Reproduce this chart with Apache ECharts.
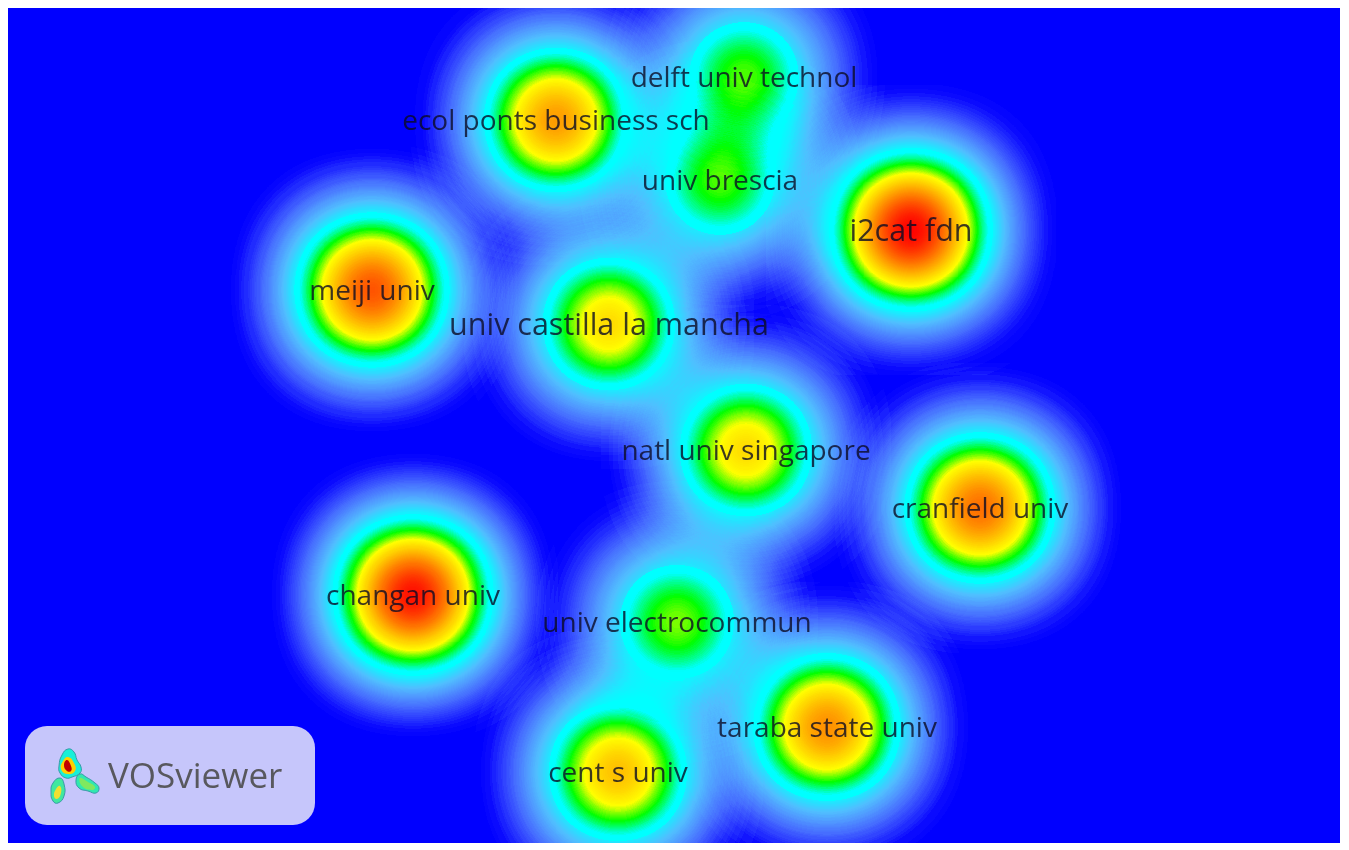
<!DOCTYPE html>
<html>
<head>
<meta charset="utf-8">
<title>VOSviewer density map</title>
<script src="https://cdn.jsdelivr.net/npm/echarts@6/dist/echarts.min.js"></script>
<style>
    * { margin: 0; padding: 0; }
    html, body { background: #fff; overflow: hidden; }
    #main { width: 1349px; height: 850px; }
    #main canvas { filter: blur(0.6px); }
</style>
</head>
<body>
<div id="main"></div>
<script>
    // institutions on the density map, map units run left to right and bottom to top
    var names = ['i2cat fdn', 'meiji univ', 'changan univ', 'cranfield univ', 'natl univ singapore',
        'univ castilla la mancha', 'ecol ponts business sch', 'delft univ technol', 'univ brescia',
        'univ electrocommun', 'taraba state univ', 'cent s univ'];
    var nodeX = [903, 364, 405, 972, 738, 601, 548, 736, 712, 669, 819, 610];
    var nodeY = [613, 553, 248, 335, 393, 519, 723, 766, 663, 221, 116, 71];
    var density = [1.0, 0.8, 0.97, 0.73, 0.46, 0.46, 0.62, 0.29, 0.29, 0.31, 0.65, 0.53];
    var fontSizes = [30.5, 28, 28, 28, 28, 30.5, 28, 28, 28, 28, 28, 28];

    // brush alpha -> colour, the wide halo underneath and the narrow core on top
    var haloStops = [
        [0, '#0000ff'], [0.008, '#0a0aff'], [0.018, '#1e28ff'], [0.032, '#3246ff'], [0.055, '#466eff'],
        [0.088, '#5096ff'], [0.13, '#50beff'], [0.19, '#14f0ff'], [0.22, '#00ffff'], [1, '#00ffff']
    ];
    var coreStops = [
        [0, 'rgba(0,255,255,0)'], [0.035, 'rgba(0,255,255,0)'], [0.07, 'rgba(0,255,255,1)'],
        [0.124, 'rgba(0,255,0,1)'], [0.185, 'rgba(255,255,0,1)'], [0.506, 'rgba(255,0,0,1)'], [1, 'rgba(255,0,0,1)']
    ];

    function buildPalette(stops, n) {
        var list = [];
        for (var i = 0; i < n; i++) {
            var t = i / (n - 1), k = 0;
            while (k < stops.length - 2 && t > stops[k + 1][0]) k++;
            var f = (t - stops[k][0]) / (stops[k + 1][0] - stops[k][0]);
            list.push(echarts.color.lerp(f, [stops[k][1], stops[k + 1][1]]));
        }
        return list;
    }

    echarts.registerMap('plane', {
        type: 'FeatureCollection',
        features: [{
            type: 'Feature',
            properties: {name: 'plane'},
            geometry: {type: 'Polygon', coordinates: [[[0, 0], [1332, 0], [1332, 835], [0, 835], [0, 0]]]}
        }]
    });

    var haloData = names.map(function (n, i) {
        return [nodeX[i], nodeY[i], Math.pow(density[i], 0.66)];
    });
    var coreData = names.map(function (n, i) {
        return [nodeX[i], nodeY[i], density[i]];
    });
    var labelData = names.map(function (n, i) {
        return {name: n, value: [nodeX[i], nodeY[i]], label: {fontSize: fontSizes[i]}};
    });

    var chart = echarts.init(document.getElementById('main'));
    chart.setOption({
        animation: false,
        backgroundColor: '#fff',
        geo: {
            map: 'plane',
            aspectScale: 1,
            boundingCoords: [[0, 835], [1332, 0]],
            left: 8,
            top: 8,
            width: 1332,
            height: 835,
            silent: true,
            label: {show: false},
            itemStyle: {areaColor: '#0000ff', borderWidth: 0},
            emphasis: {disabled: true}
        },
        visualMap: [
            {
                show: false,
                type: 'continuous',
                min: 0,
                max: 1,
                seriesIndex: 0,
                inRange: {color: buildPalette(haloStops, 256)}
            },
            {
                show: false,
                type: 'continuous',
                min: 0,
                max: 1,
                seriesIndex: 1,
                inRange: {color: buildPalette(coreStops, 256)}
            }
        ],
        series: [
            {
                type: 'heatmap',
                coordinateSystem: 'geo',
                pointSize: 60,
                blurSize: 85,
                minOpacity: 1,
                maxOpacity: 1,
                data: haloData
            },
            {
                type: 'heatmap',
                coordinateSystem: 'geo',
                pointSize: 40,
                blurSize: 69,
                minOpacity: 1,
                maxOpacity: 1,
                data: coreData
            },
            {
                type: 'scatter',
                coordinateSystem: 'geo',
                symbolSize: 1,
                itemStyle: {color: 'transparent'},
                silent: true,
                z: 5,
                label: {
                    show: true,
                    position: 'inside',
                    offset: [0, 2],
                    formatter: '{b}',
                    fontFamily: 'Open Sans',
                    color: '#0b0b24'
                },
                data: labelData
            }
        ],
        graphic: [
            {
                type: 'rect',
                z: 20,
                shape: {x: 25, y: 726, width: 290, height: 99, r: 22},
                style: {fill: '#c6c6fb'}
            },
            {
                type: 'text',
                z: 21,
                style: {
                    x: 108, y: 778, text: 'VOSviewer', fill: '#58585e',
                    font: '35px "Open Sans"', textVerticalAlign: 'middle'
                }
            },
            // logo: three little density blobs
            {
                type: 'polygon',
                z: 21,
                shape: {
                    smooth: 0.5,
                    points: [[68, 749], [74, 752], [77, 760], [81, 767], [80, 773], [72, 777], [66, 778],
                        [60, 773], [59, 766], [62, 755]]
                },
                style: {fill: '#18f0d8', stroke: '#3a9aa8', lineWidth: 1}
            },
            {
                type: 'polygon',
                z: 21,
                shape: {
                    smooth: 0.5,
                    points: [[60, 778], [64, 784], [64, 796], [58, 803], [53, 801], [51, 792], [53, 783]]
                },
                style: {fill: '#40e8a0', stroke: '#3a9aa8', lineWidth: 1}
            },
            {
                type: 'polygon',
                z: 21,
                shape: {
                    smooth: 0.5,
                    points: [[80, 774], [86, 777], [95, 783], [99, 788], [96, 793], [88, 791], [79, 788], [76, 780]]
                },
                style: {fill: '#30e8b0', stroke: '#3a9aa8', lineWidth: 1}
            },
            {
                type: 'polygon',
                z: 22,
                shape: {smooth: 0.5, points: [[68, 757], [74, 763], [75, 771], [67, 774], [61, 769], [63, 761]]},
                style: {fill: '#ffd000'}
            },
            {
                type: 'polygon',
                z: 23,
                shape: {smooth: 0.5, points: [[67, 760], [71, 766], [71, 771], [67, 771], [64, 765]]},
                style: {fill: '#c00000'}
            },
            {
                type: 'polygon',
                z: 22,
                shape: {smooth: 0.5, points: [[60, 786], [61, 793], [57, 799], [54, 796], [56, 789]]},
                style: {fill: '#f0e030'}
            },
            {
                type: 'polygon',
                z: 22,
                shape: {smooth: 0.5, points: [[80, 778], [88, 782], [95, 787], [92, 790], [82, 786]]},
                style: {fill: '#80e860'}
            }
        ]
    });
</script>
</body>
</html>
